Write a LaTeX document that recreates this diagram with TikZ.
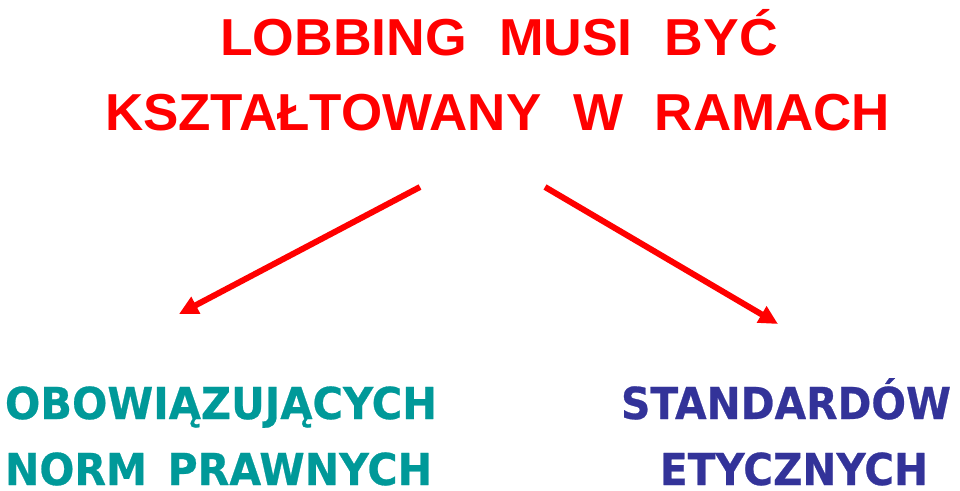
\documentclass[tikz,border=0pt]{standalone}
\usepackage{fontspec}
\usepackage{graphicx}
\newfontfamily\titlefont{Liberation Sans}
\newfontfamily\bodyfont[BoldFeatures={FakeBold=0.6}]{DejaVu Sans}
\usetikzlibrary{arrows.meta}
\definecolor{titlered}{RGB}{255,0,0}
\definecolor{tealtxt}{RGB}{0,153,153}
\definecolor{bluetxt}{RGB}{51,51,153}
\tikzset{
  txt/.style={inner sep=0pt, outer sep=0pt, anchor=base west},
  ttl/.style={txt, text=titlered, font=\titlefont\bfseries\fontsize{52}{52}\selectfont},
  lft/.style={txt, text=tealtxt, font=\bodyfont\bfseries\fontsize{44}{44}\selectfont},
  rgt/.style={txt, text=bluetxt, font=\bodyfont\bfseries\fontsize{44}{44}\selectfont},
  arr/.style={draw=titlered, line width=6pt, -{Triangle[length=19pt,width=18pt]}}
}
\begin{document}
\begin{tikzpicture}[x=1pt,y=-1pt]
\useasboundingbox (0,0) rectangle (960,490);
\node[ttl] (title1) at (220,55) {\resizebox{558pt}{\height}{LOBBING\hspace{0.6em}MUSI\hspace{0.6em}BYĆ}};
\node[ttl] (title2) at (105,130) {\resizebox{785pt}{\height}{KSZTAŁTOWANY\hspace{0.6em}W\hspace{0.6em}RAMACH}};
\node[lft] (left1) at (5,419) {\resizebox{432pt}{\height}{OBOWIĄZUJĄCYCH}};
\node[lft] (left2) at (5,485) {\resizebox{427pt}{\height}{NORM\hspace{0.5em}PRAWNYCH}};
\node[rgt] (right1) at (621,419) {\resizebox{330pt}{\height}{STANDARDÓW}};
\node[rgt] (right2) at (660,485) {\resizebox{268pt}{\height}{ETYCZNYCH}};
\coordinate (ls) at (420,187);
\coordinate (le) at (179,314);
\coordinate (rs) at (545,187);
\coordinate (re) at (778,324);
\draw[arr] (ls) -- (le);
\draw[arr] (rs) -- (re);
\end{tikzpicture}
\end{document}
